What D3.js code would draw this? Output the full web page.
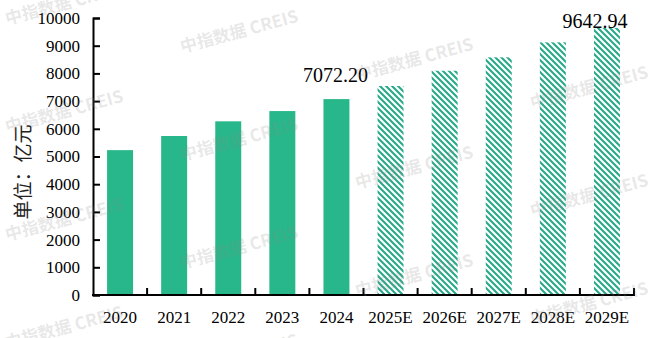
<!DOCTYPE html>
<html>
<head>
<meta charset="utf-8">
<script src="https://cdn.jsdelivr.net/npm/d3@7"></script>
<style>
  html, body { margin: 0; padding: 0; background: #fff; }
  svg { display: block; }
</style>
</head>
<body>
<svg id="chart" width="658" height="338"></svg>
<script>
// Market size by year, 2025E onward are estimates
const years = ["2020", "2021", "2022", "2023", "2024", "2025E", "2026E", "2027E", "2028E", "2029E"];
const values = [5230, 5740, 6270, 6640, 7072.20, 7545, 8095, 8580, 9120, 9642.94];
const isEstimate = [false, false, false, false, false, true, true, true, true, true];
const yTicks = [0, 1000, 2000, 3000, 4000, 5000, 6000, 7000, 8000, 9000, 10000];
const labelled = ["2024", "2029E"];
const yTitle = "单位：亿元";
const watermark = "中指数据 CREIS";

const svg = d3.select("#chart");
const W = 658, H = 338;
const m = { left: 93, right: 24, top: 18, bottom: 43 };

const x = d3.scaleBand()
  .domain(years)
  .range([m.left, W - m.right])
  .paddingInner(0.52)
  .paddingOuter(0.26);

const y = d3.scaleLinear()
  .domain([0, 10000])
  .range([H - m.bottom, m.top]);

const solid = "#27b78a";
const hatch = "#2aa98a";

// Diagonal stripe fill for the estimated years
const defs = svg.append("defs");
const pat = defs.append("pattern")
  .attr("id", "stripes")
  .attr("patternUnits", "userSpaceOnUse")
  .attr("width", 6)
  .attr("height", 6);
pat.append("path")
  .attr("d", "M0,0 L6,6 M-1,5 L1,7 M5,-1 L7,1")
  .attr("stroke", hatch)
  .attr("stroke-width", 2.1)
  .attr("stroke-linecap", "square");

// Bars
svg.append("g").selectAll("rect")
  .data(years.map((d, i) => ({ year: d, value: values[i], est: isEstimate[i] })))
  .join("rect")
  .attr("x", d => x(d.year))
  .attr("y", d => y(d.value))
  .attr("width", x.bandwidth())
  .attr("height", d => y(0) - y(d.value))
  .attr("fill", d => d.est ? "url(#stripes)" : solid);

// Y axis
const yAxis = d3.axisLeft(y)
  .tickValues(yTicks)
  .tickSize(-7)
  .tickPadding(13)
  .tickFormat(d3.format("d"));
const gy = svg.append("g")
  .attr("transform", `translate(${m.left},0)`)
  .call(yAxis);
gy.select(".domain").attr("stroke", "#000").attr("stroke-width", 2);
gy.selectAll(".tick line").attr("stroke", "#000").attr("stroke-width", 2);
gy.selectAll(".tick text")
  .attr("font-family", "'Liberation Serif', 'Times New Roman', serif")
  .attr("font-size", 17)
  .attr("fill", "#000");

// X axis: baseline, category labels, boundary ticks pointing up
const x0 = x.range()[0], x1 = x.range()[1];
const base = y(0);
svg.append("line")
  .attr("x1", x0 - 1).attr("x2", x1 + 1)
  .attr("y1", base).attr("y2", base)
  .attr("stroke", "#000").attr("stroke-width", 2);

const bounds = d3.range(1, years.length + 1).map(i => x0 + x.step() * i);
svg.append("g").selectAll("line")
  .data(bounds)
  .join("line")
  .attr("x1", d => d).attr("x2", d => d)
  .attr("y1", base).attr("y2", base - 7)
  .attr("stroke", "#000").attr("stroke-width", 2);

svg.append("g").selectAll("text")
  .data(years)
  .join("text")
  .attr("x", d => x(d) + x.bandwidth() / 2)
  .attr("y", base + 28)
  .attr("text-anchor", "middle")
  .attr("font-family", "'Liberation Serif', 'Times New Roman', serif")
  .attr("font-size", 17)
  .attr("fill", "#000")
  .text(d => d);

// Value labels
const labelOffset = { "2024": { dx: -1, dy: -17 }, "2029E": { dx: -12, dy: 0 } };
svg.append("g").selectAll("text")
  .data(labelled)
  .join("text")
  .attr("x", d => x(d) + x.bandwidth() / 2 + labelOffset[d].dx)
  .attr("y", d => y(values[years.indexOf(d)]) + labelOffset[d].dy)
  .attr("text-anchor", "middle")
  .attr("font-family", "'Liberation Serif', 'Times New Roman', serif")
  .attr("font-size", 20)
  .attr("fill", "#000")
  .text(d => values[years.indexOf(d)].toFixed(2));

// Y axis title
svg.append("text")
  .attr("transform", "translate(30,172) rotate(-90)")
  .attr("text-anchor", "middle")
  .attr("font-family", "'Noto Sans CJK SC', sans-serif")
  .attr("font-size", 19)
  .attr("fill", "#222")
  .text(yTitle);

// Tiled watermark
const wm = svg.append("g").attr("pointer-events", "none");
for (let c = 0; c < 4; c++) {
  for (let r = -1; r < 4; r++) {
    const wx = 7 + 175 * c;
    const wy = 25 + 28 * c + 108 * r;
    if (wy < -10 || wy > 380) continue;
    wm.append("text")
      .attr("transform", `translate(${wx},${wy}) rotate(-15)`)
      .attr("font-family", "'Noto Sans CJK SC', sans-serif")
      .attr("font-size", 17)
      .attr("font-weight", 700)
      .attr("fill", "#888")
      .attr("fill-opacity", 0.2)
      .attr("xml:space", "preserve")
      .text(watermark);
  }
}
</script>
</body>
</html>
